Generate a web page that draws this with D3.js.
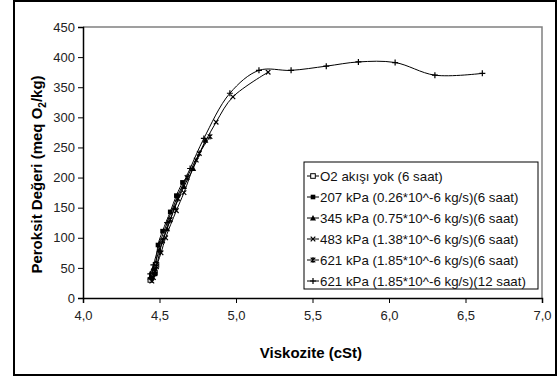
<!DOCTYPE html>
<html>
<head>
<meta charset="utf-8">
<script src="https://cdn.jsdelivr.net/npm/d3@7"></script>
<style>
  body { margin: 0; background: #fff; }
  svg text { font-family: "Liberation Sans", Arial, sans-serif; }
</style>
</head>
<body>
<div class="box"></div>
<script>
// DATA (viscosity cSt, peroxide meq O2/kg)
const seriesNames = [
  'O2 akışı yok (6 saat)',
  '207 kPa (0.26*10^-6 kg/s)(6 saat)',
  '345 kPa (0.75*10^-6 kg/s)(6 saat)',
  '483 kPa (1.38*10^-6 kg/s)(6 saat)',
  '621 kPa (1.85*10^-6 kg/s)(6 saat)',
  '621 kPa (1.85*10^-6 kg/s)(12 saat)'
];
const markers = ['openSquare', 'square', 'triangle', 'cross', 'star', 'plus'];

const s1 = [[4.44, 30], [4.45, 38], [4.47, 42], [4.48, 55]];
const s2 = [[4.45, 33], [4.47, 40], [4.49, 88], [4.52, 111], [4.57, 143], [4.61, 170], [4.65, 192]];
const s3 = [[4.44, 35], [4.46, 50], [4.50, 80], [4.55, 115], [4.60, 150], [4.66, 185], [4.72, 215], [4.80, 262]];
const s4 = [[4.45, 28], [4.47, 45], [4.51, 75], [4.54, 100], [4.61, 145], [4.66, 175], [4.74, 229], [4.87, 292], [4.98, 334], [5.21, 375]];
const s5 = [[4.46, 34], [4.48, 52], [4.52, 95], [4.57, 130], [4.62, 165], [4.68, 200], [4.76, 240], [4.83, 268]];
const s6 = [[4.44, 40], [4.46, 55], [4.50, 90], [4.55, 125], [4.62, 170], [4.70, 215], [4.79, 265], [4.96, 340],
            [5.15, 378], [5.36, 378], [5.59, 385], [5.80, 392], [6.04, 391], [6.30, 370], [6.61, 373]];
const allSeries = [s1, s2, s3, s4, s5, s6];

const xTicks = [4.0, 4.5, 5.0, 5.5, 6.0, 6.5, 7.0];
const yTicks = [0, 50, 100, 150, 200, 250, 300, 350, 400, 450];

// SETUP
const W = 560, H = 381;
const svg = d3.select('.box')
              .append('svg')
              .attr('width', W)
              .attr('height', H);

// outer frame
svg.append('rect')
   .attr('x', 14).attr('y', 1)
   .attr('width', 542).attr('height', 374)
   .attr('fill', '#fff')
   .attr('stroke', '#000')
   .attr('stroke-width', 2);

const plot = {left: 83, top: 27, right: 542, bottom: 298};

const x = d3.scaleLinear().domain([4, 7]).range([plot.left, plot.right]);
const y = d3.scaleLinear().domain([0, 450]).range([plot.bottom, plot.top]);

// plot border (top + right, gray)
svg.append('path')
   .attr('d', `M${plot.left},${plot.top}H${plot.right}V${plot.bottom}`)
   .attr('fill', 'none')
   .attr('stroke', '#808080')
   .attr('stroke-width', 1.5);

// minor ticks
const gx = svg.append('g').attr('transform', `translate(0,${plot.bottom})`);
gx.call(d3.axisBottom(x).tickValues(d3.range(4, 7.001, 0.1)).tickSize(4).tickFormat(''))
  .call(g => g.select('.domain').remove());
gx.call(d3.axisBottom(x).tickValues(xTicks).tickSize(5)
          .tickFormat(d => d3.format('.1f')(d).replace('.', ',')))
  .style('font-size', '13px');
gx.selectAll('text').attr('fill', '#222').attr('dy', '1.1em');
gx.selectAll('line').attr('stroke', '#000');
gx.select('.domain').attr('stroke', '#000').attr('stroke-width', 1.5);

const gy = svg.append('g').attr('transform', `translate(${plot.left},0)`);
gy.call(d3.axisLeft(y).tickValues(d3.range(0, 451, 10)).tickSize(3).tickFormat(''))
  .call(g => g.select('.domain').remove());
gy.call(d3.axisLeft(y).tickValues(yTicks).tickSize(5))
  .style('font-size', '13px');
gy.selectAll('text').attr('fill', '#222').attr('x', -8);
gy.selectAll('line').attr('stroke', '#000');
gy.select('.domain').attr('stroke', '#000').attr('stroke-width', 1.5);

// axis titles
svg.append('text')
   .attr('x', 311)
   .attr('y', 358)
   .attr('text-anchor', 'middle')
   .style('font-size', '15px')
   .style('font-weight', 'bold')
   .text('Viskozite (cSt)');

const yt = svg.append('text')
   .attr('transform', `translate(42,${(plot.top + plot.bottom) / 2 + 12}) rotate(-90)`)
   .attr('text-anchor', 'middle')
   .style('font-size', '15px')
   .style('font-weight', 'bold');
yt.append('tspan').text('Peroksit Değeri (meq O');
yt.append('tspan').attr('dy', 4).style('font-size', '10px').text('2');
yt.append('tspan').attr('dy', -4).text('/kg)');

// marker drawing
function drawMarker(g, type, cx, cy) {
  const s = 2.3;
  if (type === 'openSquare') {
    g.append('rect').attr('x', cx - s).attr('y', cy - s).attr('width', 2 * s).attr('height', 2 * s)
     .attr('fill', '#fff').attr('stroke', '#000').attr('stroke-width', 1);
  } else if (type === 'square') {
    g.append('rect').attr('x', cx - s).attr('y', cy - s).attr('width', 2 * s).attr('height', 2 * s)
     .attr('fill', '#000');
  } else if (type === 'triangle') {
    g.append('path').attr('d', `M${cx},${cy - 3}L${cx + 3},${cy + 2.5}L${cx - 3},${cy + 2.5}Z`).attr('fill', '#000');
  } else if (type === 'cross') {
    g.append('path').attr('d', `M${cx - s},${cy - s}L${cx + s},${cy + s}M${cx - s},${cy + s}L${cx + s},${cy - s}`)
     .attr('stroke', '#000').attr('stroke-width', 1.2);
  } else if (type === 'star') {
    g.append('path').attr('d', `M${cx - s},${cy - s}L${cx + s},${cy + s}M${cx - s},${cy + s}L${cx + s},${cy - s}M${cx},${cy - 3}V${cy + 3}`)
     .attr('stroke', '#000').attr('stroke-width', 1.2);
  } else if (type === 'plus') {
    g.append('path').attr('d', `M${cx - 3},${cy}H${cx + 3}M${cx},${cy - 3}V${cy + 3}`)
     .attr('stroke', '#000').attr('stroke-width', 1.2);
  }
}

// lines
const line = d3.line()
               .x(d => x(d[0]))
               .y(d => y(d[1]))
               .curve(d3.curveCatmullRom.alpha(0.5));

allSeries.forEach((data, i) => {
  const g = svg.append('g');
  g.append('path')
   .attr('d', line(data))
   .attr('fill', 'none')
   .attr('stroke', '#000')
   .attr('stroke-width', 1);
  data.forEach(d => drawMarker(g, markers[i], x(d[0]), y(d[1])));
});

// legend
const leg = {x: 304, y: 162, w: 234, h: 127};
const lg = svg.append('g');
lg.append('rect')
  .attr('x', leg.x).attr('y', leg.y)
  .attr('width', leg.w).attr('height', leg.h)
  .attr('fill', '#fff').attr('stroke', '#000').attr('stroke-width', 1);

seriesNames.forEach((name, i) => {
  const cy = leg.y + 14 + i * 21;
  lg.append('line')
    .attr('x1', leg.x + 3).attr('x2', leg.x + 15)
    .attr('y1', cy).attr('y2', cy)
    .attr('stroke', '#000');
  drawMarker(lg, markers[i], leg.x + 9, cy);
  lg.append('text')
    .attr('x', leg.x + 16).attr('y', cy)
    .attr('dy', '0.35em')
    .style('font-size', '13.3px')
    .attr('fill', '#111')
    .text(name);
});
</script>
</body>
</html>
